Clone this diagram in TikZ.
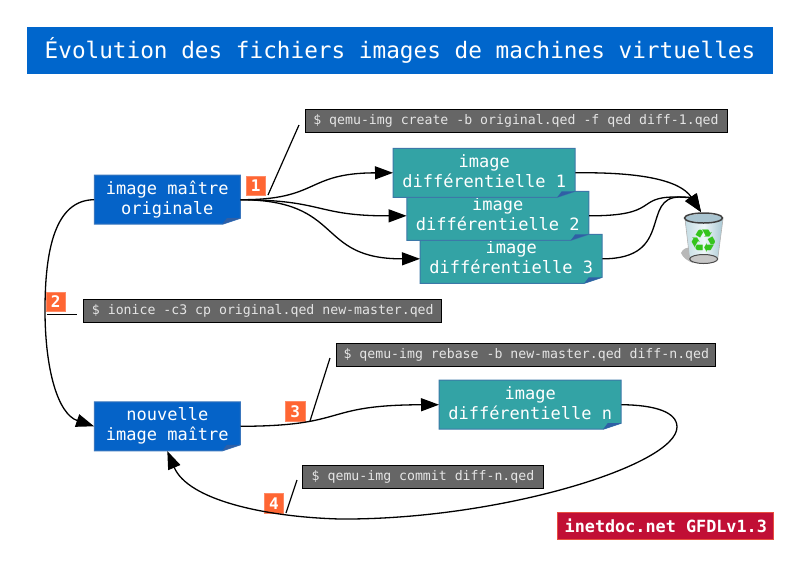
\documentclass[tikz,border=0pt]{standalone}
\usepackage{fontspec}
\newfontfamily\monofont{DejaVu Sans Mono}
\newfontfamily\symbfont{DejaVu Sans}
\usetikzlibrary{arrows.meta,calc}

\definecolor{titleblue}{HTML}{0066CC}
\definecolor{masterblue}{HTML}{0563C8}
\definecolor{masteredge}{HTML}{3A76BD}
\definecolor{diffteal}{HTML}{33A3A5}
\definecolor{diffedge}{HTML}{3C78A8}
\definecolor{foldblue}{HTML}{2F5FA5}
\definecolor{cmdgray}{HTML}{666666}
\definecolor{stepfill}{HTML}{FF6633}
\definecolor{stepedge}{HTML}{FF8A66}
\definecolor{tagred}{HTML}{C10F35}
\definecolor{tagedge}{HTML}{E8503F}
\definecolor{recyclegreen}{HTML}{35C41C}
\definecolor{glassleft}{HTML}{C4DCE4}
\definecolor{glassmid}{HTML}{EEF6F8}
\definecolor{glassright}{HTML}{A9C8D4}

\tikzset{
  imgtext/.style={font=\monofont\fontsize{17}{20}\selectfont,text=white,align=center,inner sep=0pt},
  cmdbox/.style={draw=black,line width=1pt,fill=cmdgray,text=white!90!black,inner sep=0pt,
    font=\monofont\fontsize{13.2}{16}\selectfont},
  stepnum/.style={draw=stepedge,line width=.7pt,fill=stepfill,text=white,inner sep=0pt,
    minimum width=19.5pt,minimum height=19.5pt,font=\monofont\bfseries\fontsize{16}{17}\selectfont},
  link/.style={line width=1.2pt,black},
  flow/.style={line width=1.3pt,black,-{Triangle[length=18pt,width=13pt]}},
}

% fill style, name, centre, half width, text
\newcommand{\imgbox}[5]{
  \filldraw[#1,line width=1pt] ($(#3)+(-#4,-24.5)$) -- ($(#3)+(#4,-24.5)$) -- ($(#3)+(#4,18.5)$)
    -- ($(#3)+(#4-18,24.5)$) -- ($(#3)+(-#4,24.5)$) -- cycle;
  \fill[foldblue] ($(#3)+(#4-18,24.5)$) -- ($(#3)+(#4-13.5,18.5)$) -- ($(#3)+(#4,18.5)$) -- cycle;
  \node[imgtext,minimum width=2*#4 pt,minimum height=49pt] (#2) at (#3) {\rule{0pt}{14pt}#5\rule[-5.4pt]{0pt}{5.4pt}};
}

\begin{document}
\begin{tikzpicture}[x=1pt,y=-1pt]
\useasboundingbox (0,0) rectangle (800,566);

\node[fill=titleblue,text=white,minimum width=746pt,minimum height=47pt,inner sep=0pt,
  font=\monofont\fontsize{22.7}{26}\selectfont] (title) at (400,50.5)
  {Évolution des fichiers images de machines virtuelles};

% trash can
\fill[black!28] (681,253) .. controls (683,248) and (687,248) .. (690,247) -- (693,263) .. controls (688,261) and (683,258) .. (681,253) -- cycle;
\shade[left color=glassleft,right color=glassright,middle color=glassmid] (685,219) -- (689.7,259) -- (717.7,259) -- (723,219) -- cycle;
\draw[black!30,line width=.6pt] (685,219) -- (689.7,259) (717.7,259) -- (723,219);
\fill[black!22,draw=black!70,line width=1pt] (703.7,259) ellipse (14 and 4.5);
\fill[white!75!cyan!80!black] (703.5,218) ellipse (18 and 4);
\draw[black!75,line width=1.5pt] (703.5,218) ellipse (19 and 5);
\node[text=recyclegreen,inner sep=0pt,font=\symbfont\bfseries\fontsize{32}{32}\selectfont] (recycle) at (704,241.5) {♻};
\coordinate (trash) at (701,212);

\imgbox{fill=masterblue,draw=masteredge}{master}{167.3,199.7}{73}{image maître\\originale}
\imgbox{fill=masterblue,draw=masteredge}{newmaster}{167.3,426.3}{73}{nouvelle\\image maître}
\imgbox{fill=diffteal,draw=diffedge}{diffn}{530.2,404.7}{91}{image\\différentielle n}
\imgbox{fill=diffteal,draw=diffedge}{diffc}{511.2,258.8}{91}{image\\différentielle 3}
\imgbox{fill=diffteal,draw=diffedge}{diffb}{497.8,215.8}{91}{image\\différentielle 2}
\imgbox{fill=diffteal,draw=diffedge}{diffa}{484.2,172.8}{91}{image\\différentielle 1}

\node[cmdbox,minimum width=422pt,minimum height=23pt] (cmda) at (516,121) {\$ qemu-img create -b original.qed -f qed diff-1.qed};
\node[cmdbox,minimum width=358pt,minimum height=23pt] (cmdb) at (262.8,311.3) {\$ ionice -c3 cp original.qed new-master.qed};
\node[cmdbox,minimum width=379pt,minimum height=23pt] (cmdc) at (526.3,354.7) {\$ qemu-img rebase -b new-master.qed diff-n.qed};
\node[cmdbox,minimum width=241pt,minimum height=23pt] (cmdd) at (423,477.3) {\$ qemu-img commit diff-n.qed};

\node[stepnum] (stepa) at (255.8,186) {1};
\node[stepnum] (stepb) at (55.8,302) {2};
\node[stepnum] (stepc) at (295.3,411.5) {3};
\node[stepnum] (stepd) at (274,503.2) {4};

\node[draw=tagedge,line width=1pt,fill=tagred,text=white,minimum width=216pt,minimum height=27.5pt,inner sep=0pt,
  font=\monofont\bfseries\fontsize{16.8}{18}\selectfont] (tag) at (665.8,526.2) {inetdoc.net GFDLv1.3};

% comment leaders
\coordinate (leada) at (268,195);
\coordinate (leadaend) at (299,125);
\coordinate (leadb) at (47,314.3);
\coordinate (leadbend) at (77.3,314.3);
\coordinate (leadc) at (310,421);
\coordinate (leadcend) at (330,358);
\coordinate (leadd) at (286,513);
\coordinate (leaddend) at (297,480);
\draw[link] (leada) -- (leadaend);
\draw[link] (leadb) -- (leadbend);
\draw[link] (leadc) -- (leadcend);
\draw[link] (leadd) -- (leaddend);

\draw[flow] (master.east) .. controls (320,200) and (305,173) .. (diffa.west);
\draw[flow] (master.east) .. controls (325,200) and (315,216) .. (diffb.west);
\draw[flow] (master.east) .. controls (345,200) and (315,259) .. (diffc.west);

\draw[flow] (diffa.east) .. controls (640,172) and (680,180) .. (trash);
\draw[flow] (diffb.east) .. controls (660,216) and (635,197) .. (675,197) .. controls (685,197) and (691,198) .. (trash);
\draw[flow] (diffc.east) .. controls (675,259) and (640,197) .. (680,197) .. controls (688,197) and (692,198) .. (trash);

\draw[flow] (master.west) .. controls (55,200) and (45,250) .. (45,310) .. controls (45,370) and (58,414) .. (newmaster.west);
\draw[flow] (newmaster.east) .. controls (350,426) and (320,405) .. (diffn.west);
\draw[flow] (diffn.east) .. controls (655,405) and (677,412) .. (677,427) .. controls (677,465) and (500,520) .. (340,519)
  .. controls (265,517) and (188,500) .. (newmaster.south);

\end{tikzpicture}
\end{document}
